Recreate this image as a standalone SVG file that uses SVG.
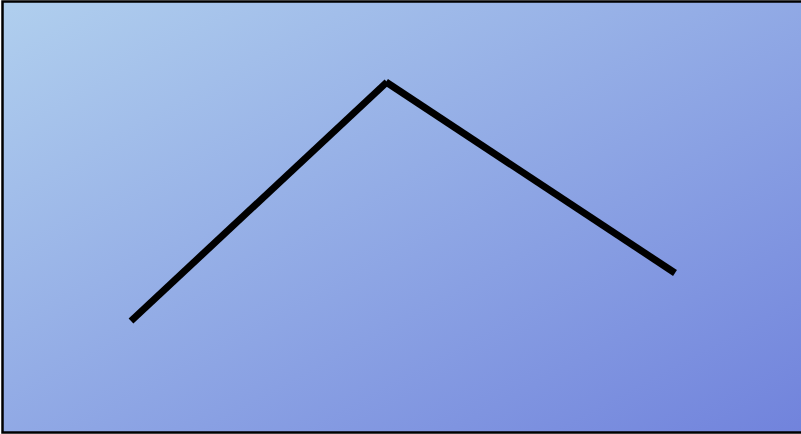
<svg xmlns="http://www.w3.org/2000/svg" width="801" height="434" viewBox="0 0 801 434">
<defs>
<linearGradient id="bg" x1="0" y1="0" x2="1" y2="1">
<stop offset="0" stop-color="#b0cfee"/>
<stop offset="1" stop-color="#7183dc"/>
</linearGradient>
<style>.ln{stroke:#000;stroke-width:7;fill:none;stroke-linecap:butt}</style>
</defs>
<rect x="2.5" y="1.5" width="800" height="431" fill="url(#bg)" stroke="#000" stroke-width="2.5"/>
<g id="connectors">
<line class="ln" x1="131" y1="321" x2="387" y2="82"/>
<line class="ln" x1="386" y1="82" x2="675" y2="273"/>
</g>
</svg>
